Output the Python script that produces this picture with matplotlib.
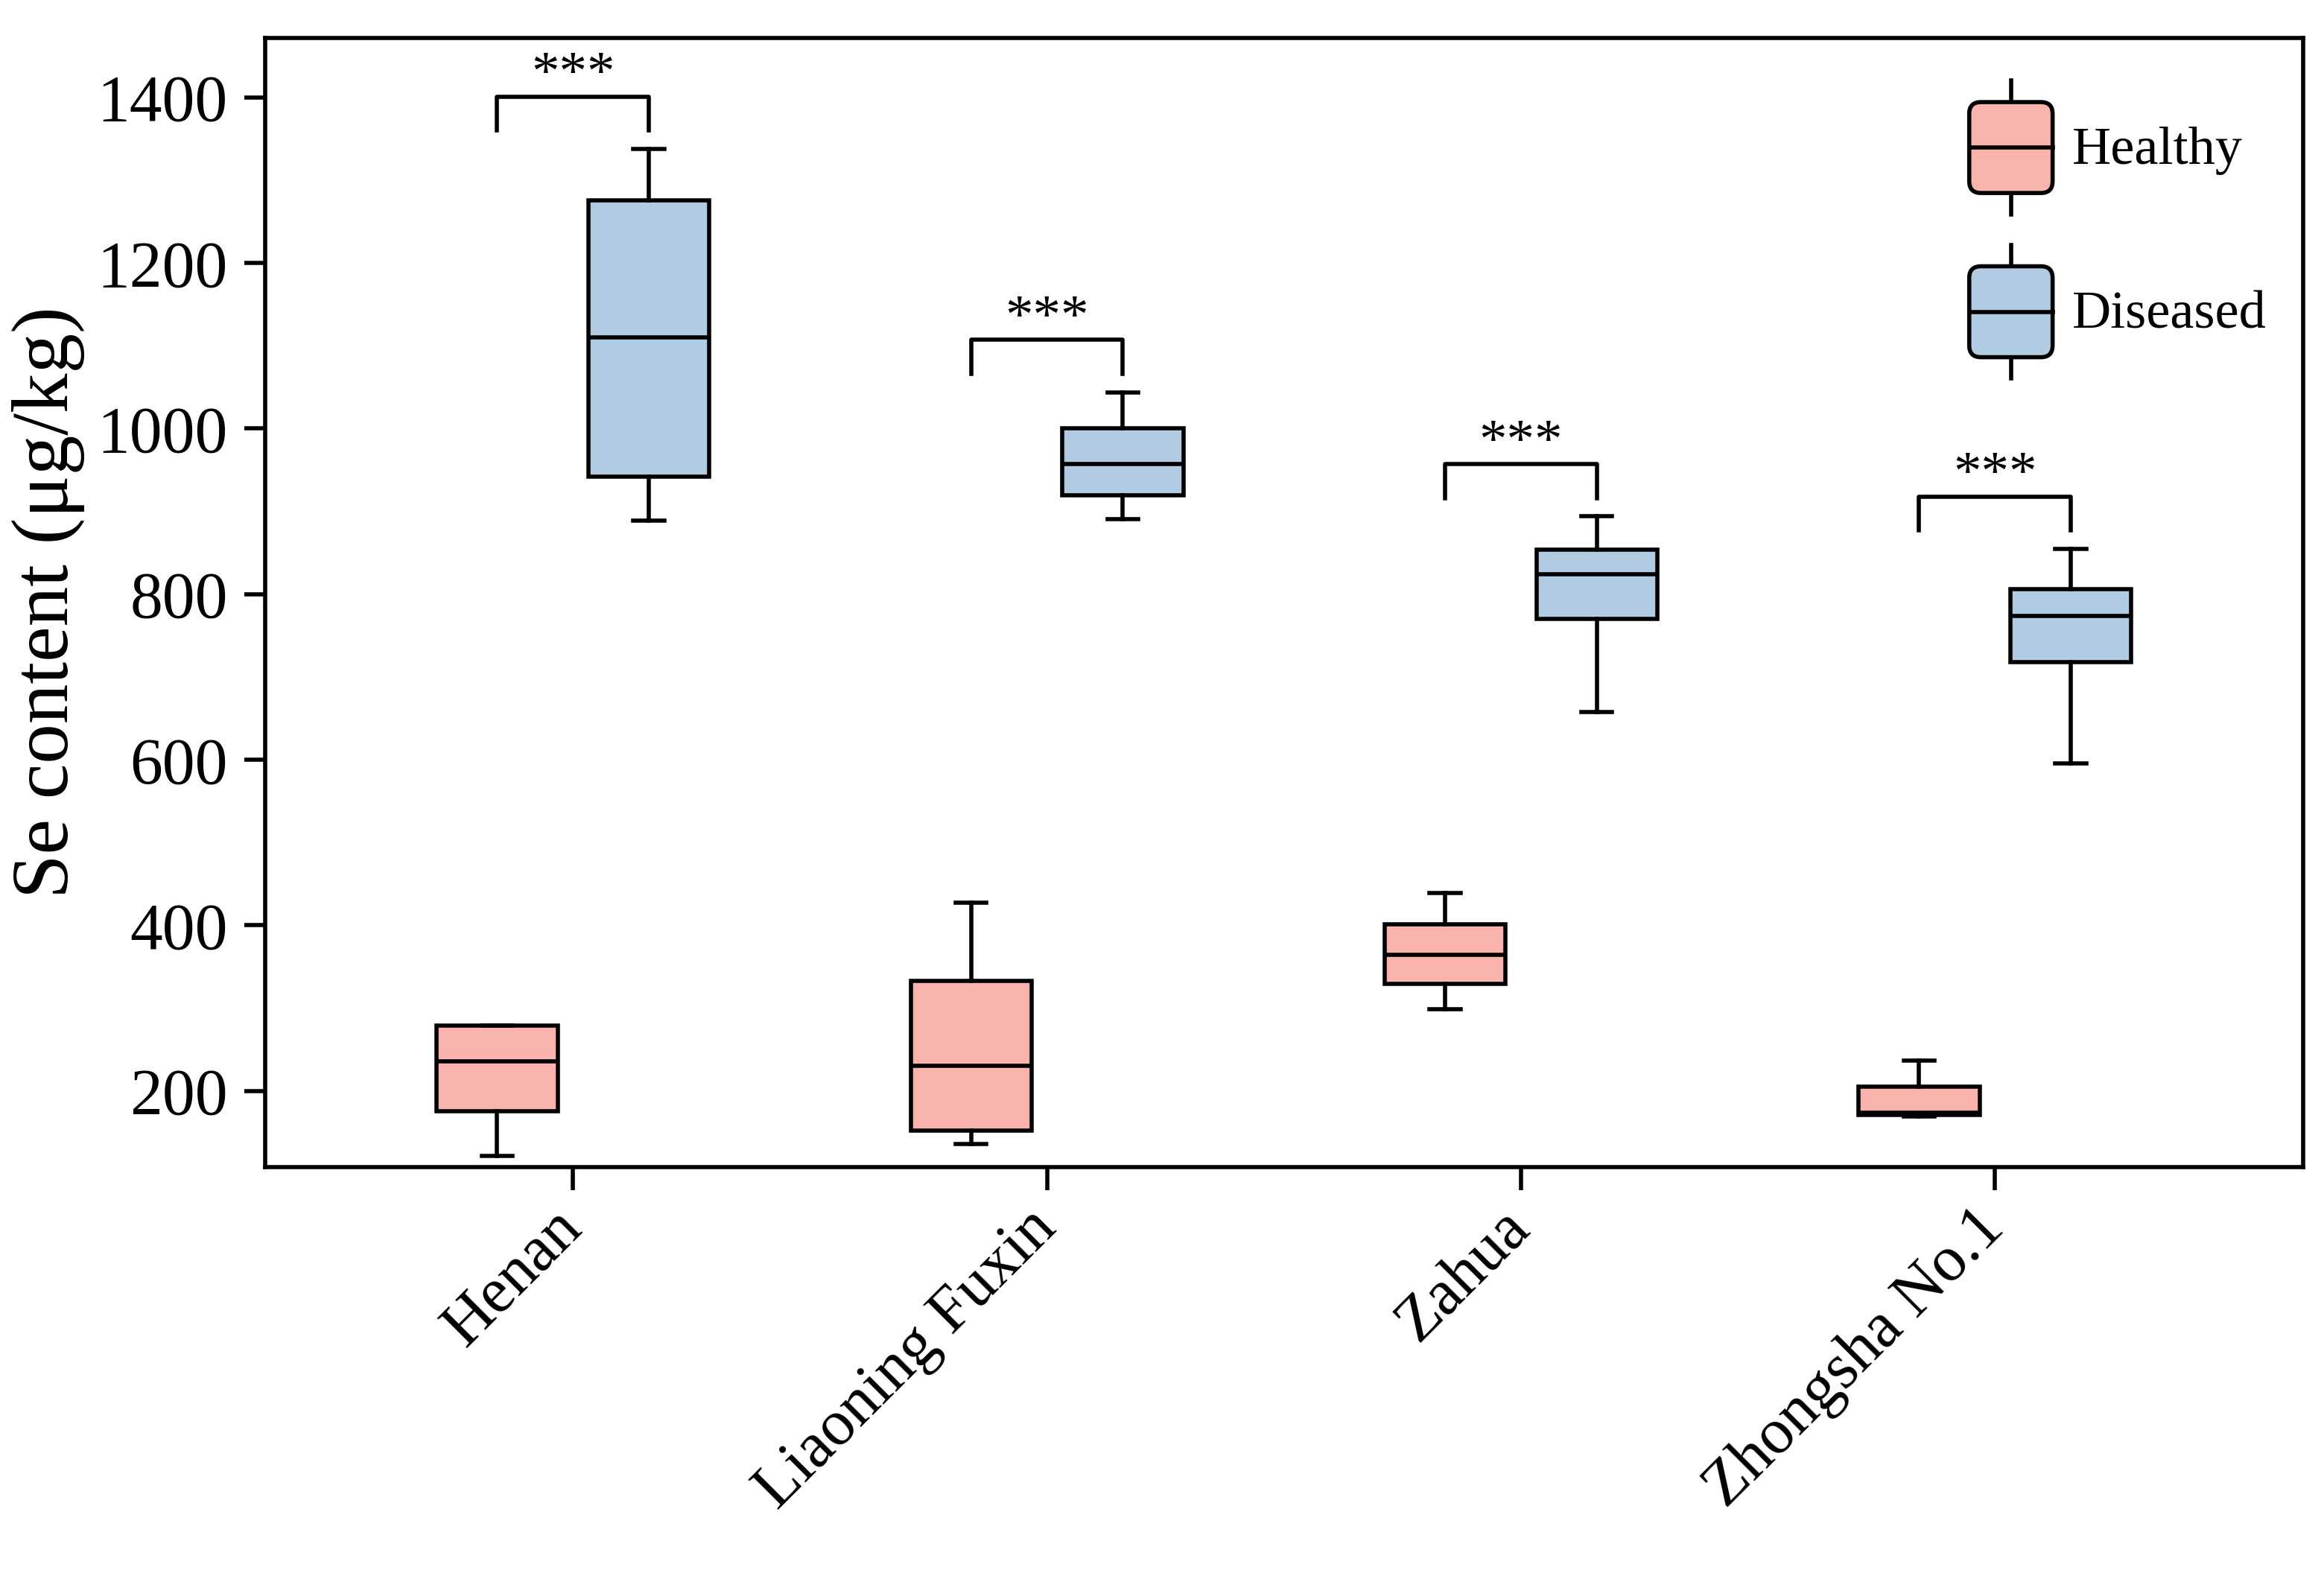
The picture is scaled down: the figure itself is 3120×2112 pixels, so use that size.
"""Se content in healthy vs diseased plants, box plots per variety."""

import matplotlib
matplotlib.use("Agg")
import matplotlib.pyplot as plt
from matplotlib.legend_handler import HandlerBase
from matplotlib.lines import Line2D
from matplotlib.patches import FancyBboxPatch, Patch

plt.rcParams["font.family"] = ["Liberation Serif", "DejaVu Serif"]

CATEGORIES = ["Henan", "Liaoning Fuxin", "Zahua", "Zhongsha No.1"]

# five-number summaries (whislo, q1, med, q3, whishi)
HEALTHY_WHISLO = [122, 136, 299, 169]
HEALTHY_Q1 = [176, 152, 329, 171]
HEALTHY_MED = [236, 230, 364, 174]
HEALTHY_Q3 = [279, 333, 401, 205]
HEALTHY_WHISHI = [279, 427, 439, 237]

DISEASED_WHISLO = [889, 891, 658, 596]
DISEASED_Q1 = [942, 919, 770, 718]
DISEASED_MED = [1110, 957, 824, 774]
DISEASED_Q3 = [1276, 1000, 854, 806]
DISEASED_WHISHI = [1338, 1044, 894, 855]

SIG_LABELS = ["***", "***", "***", "***"]

HEALTHY_COLOR = "#F9B3AD"
DISEASED_COLOR = "#B0CBE2"
LW = 2.0
OFFSET = 0.16
BOX_W = 0.255
CAP_W = 0.065
BRACKET_GAP = 63
BRACKET_LEG = 41


def _stats(whislo, q1, med, q3, whishi):
    return [
        dict(whislo=a, q1=b, med=c, q3=d, whishi=e, fliers=[])
        for a, b, c, d, e in zip(whislo, q1, med, q3, whishi)
    ]


class BoxHandler(HandlerBase):
    """Legend key drawn as a small rounded box with median and whiskers."""

    def __init__(self, color):
        super().__init__()
        self.color = color

    def create_artists(self, legend, orig_handle, xdescent, ydescent,
                       width, height, fontsize, trans):
        x0 = -xdescent
        yc = -ydescent + height / 2
        bh = 1.69 * fontsize
        wl = 0.40 * fontsize
        by = yc - bh / 2
        xm = x0 + width / 2
        wtop = Line2D([xm, xm], [by + bh, by + bh + wl], color="black",
                      lw=LW, transform=trans)
        wbot = Line2D([xm, xm], [by - wl, by], color="black", lw=LW,
                      transform=trans)
        box = FancyBboxPatch(
            (x0, by), width, bh,
            boxstyle=f"round,pad=0,rounding_size={width * 0.14}",
            facecolor=self.color, edgecolor="black", lw=LW, transform=trans,
        )
        med = Line2D([x0, x0 + width], [yc, yc], color="black",
                     lw=LW, transform=trans)
        return [wtop, wbot, box, med]


fig = plt.figure(figsize=(15.6, 10.56), dpi=200)
ax = fig.add_axes([0.114, 0.258, 0.877, 0.718])

xs = list(range(len(CATEGORIES)))
groups = [
    (_stats(HEALTHY_WHISLO, HEALTHY_Q1, HEALTHY_MED, HEALTHY_Q3, HEALTHY_WHISHI),
     [x - OFFSET for x in xs], HEALTHY_COLOR),
    (_stats(DISEASED_WHISLO, DISEASED_Q1, DISEASED_MED, DISEASED_Q3, DISEASED_WHISHI),
     [x + OFFSET for x in xs], DISEASED_COLOR),
]
for stats, pos, color in groups:
    ax.bxp(
        stats,
        positions=pos,
        widths=BOX_W,
        capwidths=CAP_W,
        patch_artist=True,
        showfliers=False,
        manage_ticks=False,
        boxprops=dict(facecolor=color, edgecolor="black", linewidth=LW),
        medianprops=dict(color="black", linewidth=LW),
        whiskerprops=dict(color="black", linewidth=LW),
        capprops=dict(color="black", linewidth=LW),
    )

# significance brackets between healthy and diseased boxes
for x, top, lab in zip(xs, DISEASED_WHISHI, SIG_LABELS):
    yb = top + BRACKET_GAP
    ax.plot([x - OFFSET, x - OFFSET, x + OFFSET, x + OFFSET],
            [yb - BRACKET_LEG, yb, yb, yb - BRACKET_LEG],
            color="black", lw=LW)
    ax.text(x, yb - 6, lab, ha="center", va="bottom", fontsize=27)

ax.set_xlim(-0.65, 3.65)
ax.set_ylim(108, 1472)
ax.set_yticks([200, 400, 600, 800, 1000, 1200, 1400])
ax.set_xticks(xs)
ax.set_xticklabels(CATEGORIES, rotation=45, ha="right", va="center",
                   rotation_mode="anchor", fontsize=31)
ax.tick_params(axis="y", labelsize=31.5, length=10, width=LW,
               direction="out", pad=8)
ax.tick_params(axis="x", length=11, width=LW, direction="out", pad=14)
ax.set_ylabel("Se content (μg/kg)", fontsize=38.5, labelpad=6)
for sp in ax.spines.values():
    sp.set_linewidth(LW)

h_healthy = Patch(label="Healthy")
h_diseased = Patch(label="Diseased")
ax.legend(
    handles=[h_healthy, h_diseased],
    handler_map={h_healthy: BoxHandler(HEALTHY_COLOR),
                 h_diseased: BoxHandler(DISEASED_COLOR)},
    loc="upper left",
    bbox_to_anchor=(0.823, 0.975),
    frameon=False,
    fontsize=26,
    borderpad=0,
    handlelength=1.55,
    handleheight=2.75,
    handletextpad=0.36,
    labelspacing=1.02,
)

fig.savefig("out.png", dpi=200)
